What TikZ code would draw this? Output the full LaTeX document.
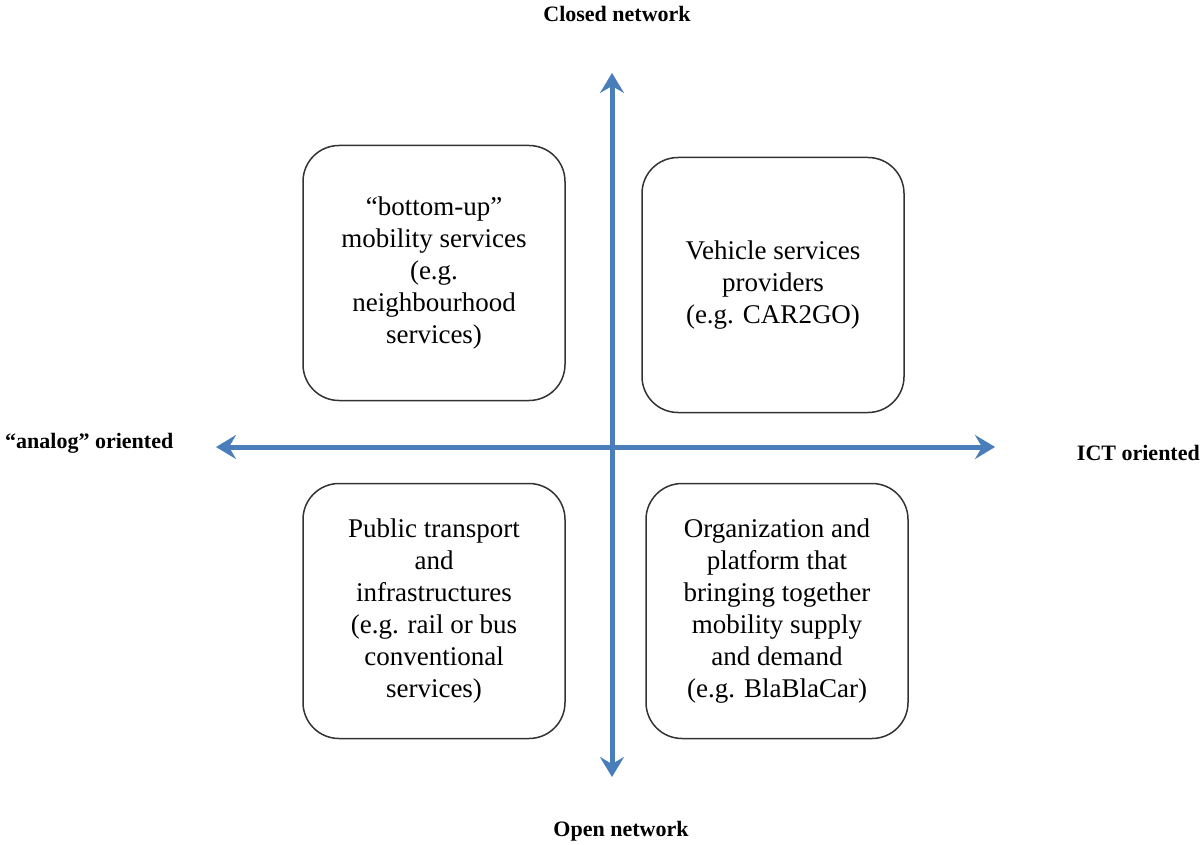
\documentclass[tikz,border=0pt]{standalone}
\usepackage{fontspec}
\setmainfont{Liberation Serif}
\usetikzlibrary{positioning, arrows.meta}

\definecolor{axisblue}{RGB}{74,126,187}

\begin{document}
\begin{tikzpicture}[
    x=1pt, y=-1pt,
    % Styles
    quadrant/.style={
        rectangle,
        rounded corners=36pt,
        minimum height=255pt,
        minimum width=262pt,
        draw=black!80,
        line width=1.5pt,
        align=center,
        font=\fontsize{27}{32}\selectfont
    },
    axis/.style={
        {Stealth[length=20pt, width=24pt, inset=7pt]}-{Stealth[length=20pt, width=24pt, inset=7pt]},
        draw=axisblue,
        line width=5pt
    },
    axislabel/.style={
        font=\bfseries\fontsize{22}{26}\selectfont,
        inner sep=0pt
    }
]
    \useasboundingbox (0,0) rectangle (1201,845);

    % Axes
    \coordinate (top) at (612,73);
    \coordinate (bottom) at (612,777);
    \coordinate (left) at (216,447);
    \coordinate (right) at (995,447);
    \draw[axis] (bottom) -- (top);
    \draw[axis] (left) -- (right);

    % Axis labels
    \node[axislabel] (closed) at (617,14) {Closed network};
    \node[axislabel] (open) at (621,831) {Open network};
    \node[axislabel, anchor=west] (analog) at (5,443) {``analog'' oriented};
    \node[axislabel, anchor=east] (ict) at (1200,453) {ICT oriented};

    % Quadrants
    \node[quadrant] (bottomup) at (434,273)
        {``bottom-up''\\mobility services\\(e.g.\\neighbourhood\\services)};
    \node[quadrant] (vehicle) at (773,285)
        {Vehicle services\\providers\\(e.g. CAR2GO)};
    \node[quadrant] (public) at (434,611)
        {Public transport\\and\\infrastructures\\(e.g. rail or bus\\conventional\\services)};
    \node[quadrant] (platform) at (777,611)
        {Organization and\\platform that\\bringing together\\mobility supply\\and demand\\(e.g. BlaBlaCar)};
\end{tikzpicture}
\end{document}
